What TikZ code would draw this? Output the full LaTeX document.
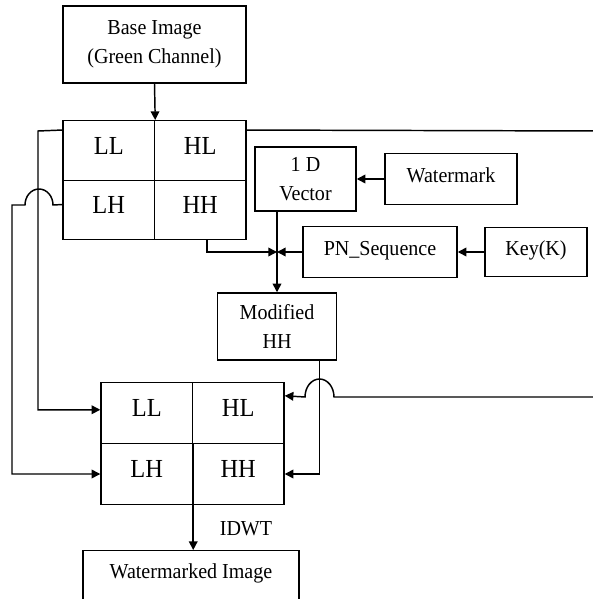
\documentclass[tikz,border=0pt]{standalone}
\usepackage{fontspec}
\setmainfont{Liberation Serif}[FakeStretch = 0.94]
\usetikzlibrary{arrows.meta, calc}

\tikzset{
    box/.style  = {draw, inner sep = 0, align = center, font = \fontsize{16}{21.75}\selectfont},
    lift/.style = {text height = 11pt, text depth = 6pt},
    cell/.style = {box, font = \fontsize{19.5}{22}\selectfont, text height = 12.9pt, text depth = 7pt,
                   minimum width = 68.6pt, minimum height = 44.6pt},
    link/.style = {-{Triangle[length = 6.5pt, width = 6.5pt]}},
}

\begin{document}
\begin{tikzpicture}[x = 0.75pt, y = -0.75pt, line width = 1.1pt]
    \useasboundingbox (0, 0) rectangle (592, 599);

    \node [box, minimum width = 137.25pt, minimum height = 57.75pt] (base) at (154.5, 44.5) {Base Image\\(Green Channel)};

    % DWT sub-bands
    \node [cell] (ll1) at (108.75, 150.5) {LL};
    \node [cell] (hl1) at (200.25, 150.5) {HL};
    \node [cell] (lh1) at (108.75, 210)   {LH};
    \node [cell] (hh1) at (200.25, 210)   {HH};

    \node [box, minimum width = 75.75pt, minimum height = 48pt]          (vec) at (305.5, 179) {1 D\\Vector};
    \node [box, lift, minimum width = 99pt,    minimum height = 38.25pt] (wm)  at (451, 179)   {Watermark};
    \node [box, lift, minimum width = 115.5pt, minimum height = 38.25pt] (pn)  at (380, 252)   {PN\_Sequence};
    \node [box, lift, minimum width = 76.5pt,  minimum height = 36.75pt] (key) at (536, 252)   {Key(K)};
    \node [box, minimum width = 89.25pt, minimum height = 50.25pt]       (mod) at (277, 326.5) {Modified\\HH};

    % IDWT sub-bands
    \node [cell, minimum height = 45.75pt] (ll2) at (146.75, 413) {LL};
    \node [cell, minimum height = 45.75pt] (hl2) at (238.25, 413) {HL};
    \node [cell, minimum height = 45.75pt] (lh2) at (146.75, 474) {LH};
    \node [cell, minimum height = 45.75pt] (hh2) at (238.25, 474) {HH};

    \node [box, draw = none] (idwt) at (246, 529) {IDWT};
    \node [box, anchor = north, minimum width = 162pt, text height = 21pt, text depth = 23pt] (wimg) at (191, 550) {Watermarked Image};

    \coordinate (mix) at (277, 252);

    \draw [link] (base.south) -- (ll1.north east);
    \draw [link] (wm.west) -- (vec.east);
    \draw [link] (key.west) -- (pn.east);
    \draw [link] ($(hh1.south west) + (53, 0)$) |- (mix);
    \draw [link] (pn.west) -- (mix);
    \draw [link] (vec.south -| mod.north) -- (mod.north);

    % LL and LH go round the left
    \draw [link] ($(ll1.north west) + (0, 10)$) -- (38, 131) |- ($(ll2.north west) + (0, 28)$);
    \draw [link] ($(lh1.north west) + (0, 25)$) -- (53, 205)
        arc [start angle = 0, end angle = -180, x radius = 14, y radius = 16] -- (12, 205) |- (lh2.west);

    % HL goes round the right, off the page
    \draw [link] ($(hl1.north east) + (0, 10)$) -- (600, 131) -- (600, 397) -- (334, 397)
        arc [start angle = 0, end angle = -180, x radius = 14.5, y radius = 18] -- ($(hl2.north east) + (0, 14)$);

    \draw [link] ($(mod.south east) + (-18, 0)$) |- (hh2.east);
    \draw [link] (ll2.south east) -- (ll2.south east |- wimg.north);

\end{tikzpicture}
\end{document}
